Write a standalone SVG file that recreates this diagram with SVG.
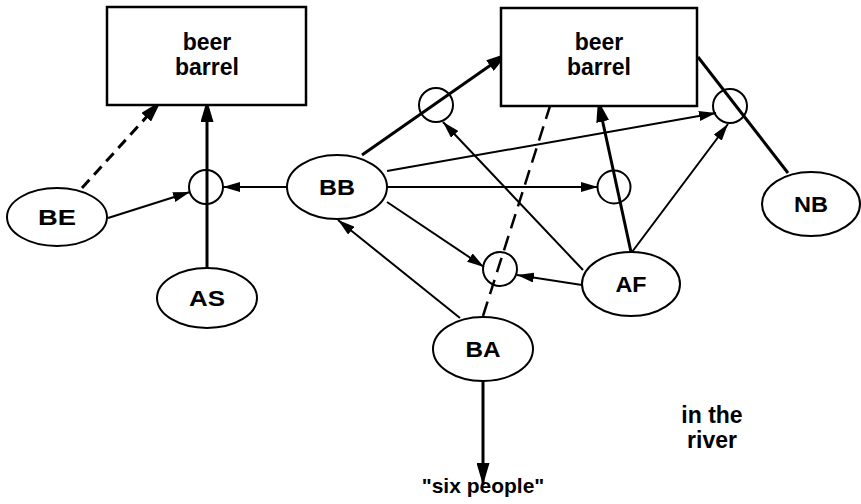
<svg xmlns="http://www.w3.org/2000/svg" width="861" height="504" viewBox="0 0 861 504">
<style>
.box{fill:#fff;stroke:#000;stroke-width:2.5}
.ell{fill:#fff;stroke:#000;stroke-width:2}
.jn{fill:none;stroke:#000;stroke-width:2}
.lbl{font-family:"Liberation Sans",Arial,sans-serif;font-weight:bold;font-size:22px;text-anchor:middle;fill:#000}
.thin{fill:none;stroke:#000;stroke-width:2;marker-end:url(#ah)}
.thick{fill:none;stroke:#000;stroke-width:3;marker-end:url(#ahb)}
.plain{fill:none;stroke:#000;stroke-width:3}
.dash{fill:none;stroke:#000;stroke-width:3;stroke-dasharray:11 7}
.dash2{fill:none;stroke:#000;stroke-width:2.5;stroke-dasharray:15 8}
</style>
<defs>
<marker id="ah" markerUnits="userSpaceOnUse" markerWidth="17" markerHeight="10" refX="17" refY="5" orient="auto"><path d="M0,0 L17,5 L0,10 z" fill="#000"/></marker>
<marker id="ahb" markerUnits="userSpaceOnUse" markerWidth="22" markerHeight="13" refX="22" refY="6.5" orient="auto"><path d="M0,0 L22,6.5 L0,13 z" fill="#000"/></marker>
</defs>
<rect width="861" height="504" fill="#fff"/>
<g id="connectors">
<line class="dash" x1="82" y1="188" x2="161" y2="101" style="marker-end:url(#ahb)"/>
<line class="thin" x1="108" y1="218" x2="190" y2="192"/>
<line class="thick" x1="207" y1="268" x2="207" y2="100"/>
<line class="thin" x1="287" y1="187" x2="223" y2="187"/>
<line class="thick" x1="362" y1="155" x2="508" y2="53"/>
<line class="thin" x1="387" y1="171" x2="716" y2="113"/>
<line class="thin" x1="387" y1="187" x2="598" y2="187"/>
<line class="thin" x1="387" y1="202" x2="484" y2="267"/>
<line class="thin" x1="460" y1="318" x2="338" y2="220"/>
<line class="thin" x1="583" y1="270" x2="443" y2="122"/>
<line class="thin" x1="582" y1="285" x2="517" y2="275"/>
<line class="thick" x1="631" y1="252" x2="598" y2="100"/>
<line class="thin" x1="632" y1="252" x2="728" y2="124"/>
<line class="dash2" x1="483" y1="316" x2="550" y2="106"/>
<line class="plain" x1="698" y1="57" x2="788" y2="173"/>
<line class="thick" x1="483" y1="382" x2="483" y2="485"/>
</g>
<g id="barrel1"><rect class="box" x="107" y="7" width="199" height="98"/><text class="lbl" x="207" y="50" style="font-size:23px">beer</text><text class="lbl" x="207" y="75" style="font-size:23px">barrel</text></g>
<g id="barrel2"><rect class="box" x="501" y="8" width="196" height="98"/><text class="lbl" x="599" y="50" style="font-size:23px">beer</text><text class="lbl" x="599" y="75" style="font-size:23px">barrel</text></g>
<g id="BE"><ellipse class="ell" cx="57" cy="217" rx="50" ry="29"/><text class="lbl" x="57" y="225" textLength="38" lengthAdjust="spacingAndGlyphs">BE</text></g>
<g id="AS"><ellipse class="ell" cx="207" cy="298" rx="50" ry="30"/><text class="lbl" x="207" y="306" textLength="36" lengthAdjust="spacingAndGlyphs">AS</text></g>
<g id="BB"><ellipse class="ell" cx="337" cy="187" rx="50" ry="32"/><text class="lbl" x="337" y="195" textLength="36" lengthAdjust="spacingAndGlyphs">BB</text></g>
<g id="AF"><ellipse class="ell" cx="631" cy="284" rx="49" ry="32"/><text class="lbl" x="631" y="292" textLength="31" lengthAdjust="spacingAndGlyphs">AF</text></g>
<g id="NB"><ellipse class="ell" cx="811" cy="204" rx="49" ry="32"/><text class="lbl" x="811" y="212" textLength="34" lengthAdjust="spacingAndGlyphs">NB</text></g>
<g id="BA"><ellipse class="ell" cx="483" cy="349" rx="50" ry="32"/><text class="lbl" x="483" y="357" textLength="35" lengthAdjust="spacingAndGlyphs">BA</text></g>
<g id="j1"><circle class="jn" cx="206" cy="187" r="17"/></g>
<g id="j2"><circle class="jn" cx="436" cy="105" r="17"/></g>
<g id="j3"><circle class="jn" cx="730" cy="106" r="17"/></g>
<g id="j4"><circle class="jn" cx="614" cy="187" r="16.5"/></g>
<g id="j5"><circle class="jn" cx="500" cy="269" r="17"/></g>
<g id="six"><text class="lbl" x="483" y="493" style="font-size:21px">"six people"</text></g>
<g id="river"><text class="lbl" x="712" y="423" style="font-size:23px">in the</text><text class="lbl" x="712" y="448" style="font-size:23px">river</text></g>
</svg>
